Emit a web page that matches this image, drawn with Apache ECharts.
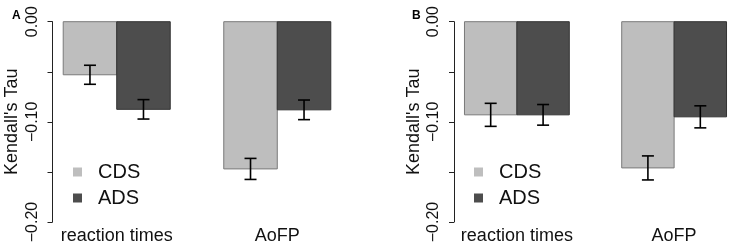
<!DOCTYPE html>
<html>
<head>
<meta charset="utf-8">
<script src="https://cdn.jsdelivr.net/npm/echarts@6/dist/echarts.min.js"></script>
<style>
  html, body { margin: 0; padding: 0; background: #fff; }
  #main { width: 737px; height: 249px; }
</style>
</head>
<body>
<div id="main"></div>
<script>
// 数据
const groups = ['reaction times', 'AoFP'];
const seriesNames = ['CDS', 'ADS'];
const tauA_CDS = [-0.053, -0.147];
const tauA_ADS = [-0.0875, -0.088];
const errA_CDS = [0.0095, 0.0105];
const errA_ADS = [0.0097, 0.0098];
const tauB_CDS = [-0.093, -0.146];
const tauB_ADS = [-0.093, -0.095];
const errB_CDS = [0.0115, 0.012];
const errB_ADS = [0.0103, 0.011];
const yTicks = [0, -0.05, -0.1, -0.15, -0.2];

const colors = ['#bebebe', '#4d4d4d'];
const borders = ['#7a7a7a', '#333333'];
const font = 'Liberation Sans, Arial, sans-serif';

let chart = echarts.init(document.getElementById('main'), null, {
  width: 737,
  height: 249
});

// 柱子 + 误差线
function makeSeries(gridIdx, si, vals, errs) {
  return {
    name: seriesNames[si],
    type: 'custom',
    xAxisIndex: gridIdx,
    yAxisIndex: gridIdx,
    itemStyle: { color: colors[si] },
    data: vals.map((v, g) => [g, v, errs[g]]),
    renderItem: function(params, api) {
      let g = api.value(0), v = api.value(1), e = api.value(2);
      let left = 1 + g * 3 + si;
      let p0 = api.coord([left, 0]);
      let p1 = api.coord([left + 1, v]);
      let cx = api.coord([left + 0.5, 0])[0];
      let top = api.coord([left, v + e])[1];
      let bot = api.coord([left, v - e])[1];
      let lineStyle = { stroke: '#000', lineWidth: 1.6 };
      return {
        type: 'group',
        children: [{
          type: 'rect',
          shape: { x: p0[0], y: p0[1], width: p1[0] - p0[0], height: p1[1] - p0[1] },
          style: { fill: colors[si], stroke: borders[si], lineWidth: 1 }
        }, {
          type: 'line', shape: { x1: cx, y1: top, x2: cx, y2: bot }, style: lineStyle
        }, {
          type: 'line', shape: { x1: cx - 6, y1: top, x2: cx + 6, y2: top }, style: lineStyle
        }, {
          type: 'line', shape: { x1: cx - 6, y1: bot, x2: cx + 6, y2: bot }, style: lineStyle
        }]
      };
    }
  };
}

function xAxisOf(gridIdx) {
  return {
    type: 'value',
    gridIndex: gridIdx,
    min: 0.8,
    max: 6.2,
    axisLine: { show: false },
    axisTick: { show: false },
    splitLine: { show: false },
    axisLabel: {
      customValues: [2, 5],
      formatter: v => groups[Math.round((v - 2) / 3)],
      fontFamily: font,
      fontSize: 18,
      color: '#111',
      margin: 5
    }
  };
}

function yAxisOf(gridIdx) {
  return {
    type: 'value',
    gridIndex: gridIdx,
    min: yTicks[yTicks.length - 1],
    max: yTicks[0],
    interval: 0.05,
    name: "Kendall's Tau",
    nameLocation: 'middle',
    nameRotate: 90,
    nameGap: 31,
    nameTextStyle: { fontFamily: font, fontSize: 18, color: '#111' },
    axisLine: { show: true, lineStyle: { color: '#222', width: 1 } },
    axisTick: { show: true, length: 5, lineStyle: { color: '#222' } },
    splitLine: { show: false },
    axisLabel: {
      rotate: 90,
      margin: 12,
      fontFamily: font,
      fontSize: 16,
      color: '#111',
      formatter: v => (Math.round(v * 100) % 10 === 0 ? v.toFixed(2).replace('-', '\u2212') : '')
    }
  };
}

function legendOf(left) {
  return {
    orient: 'vertical',
    left: left,
    top: 157,
    icon: 'rect',
    itemWidth: 9,
    itemHeight: 9,
    itemGap: 6,
    itemStyle: { borderWidth: 0 },
    textStyle: { fontFamily: font, fontSize: 20, color: '#111', padding: [0, 0, 0, 11] },
    data: seriesNames
  };
}

let option = {
  backgroundColor: '#fff',
  animation: false,
  title: [{
    text: 'A', left: 7, top: 5,
    textStyle: { fontFamily: font, fontSize: 12, fontWeight: 'bold', color: '#000' }
  }, {
    text: 'B', left: 407, top: 5,
    textStyle: { fontFamily: font, fontSize: 12, fontWeight: 'bold', color: '#000' }
  }],
  legend: [legendOf(68), legendOf(469)],
  grid: [
    { left: 52.5, top: 21.7, width: 289, height: 200.3 },
    { left: 454, top: 21.7, width: 289, height: 200.3 }
  ],
  xAxis: [xAxisOf(0), xAxisOf(1)],
  yAxis: [yAxisOf(0), yAxisOf(1)],
  series: [
    makeSeries(0, 0, tauA_CDS, errA_CDS),
    makeSeries(0, 1, tauA_ADS, errA_ADS),
    makeSeries(1, 0, tauB_CDS, errB_CDS),
    makeSeries(1, 1, tauB_ADS, errB_ADS)
  ]
};
chart.setOption(option);
</script>
</body>
</html>
